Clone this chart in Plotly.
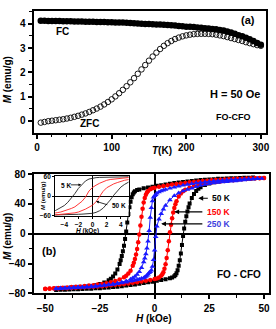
import plotly.graph_objects as go

W, H = 276, 329
FONT = "Liberation Sans, Arial, sans-serif"

# ---------------- (a) FC / ZFC, H = 50 Oe ----------------
T_K = list(range(5, 301, 5))
M_fc = [4.12, 4.12, 4.115, 4.115, 4.11, 4.11, 4.105, 4.10, 4.10, 4.095,
        4.09, 4.09, 4.085, 4.08, 4.078, 4.075, 4.07, 4.068, 4.065,
        4.06, 4.055, 4.05, 4.045, 4.04, 4.03, 4.02, 4.01, 4.0, 3.99,
        3.985, 3.98, 3.97, 3.965, 3.955, 3.945, 3.935, 3.925, 3.91, 3.895,
        3.88, 3.87, 3.86, 3.845, 3.83, 3.815, 3.80, 3.785, 3.77, 3.745,
        3.72, 3.68, 3.64, 3.59, 3.53, 3.48, 3.42, 3.36, 3.29, 3.21, 3.13]
M_zfc = [-0.07, -0.04, -0.01, 0.01, 0.03, 0.05, 0.07, 0.10, 0.13, 0.17,
         0.21, 0.26, 0.31, 0.37, 0.44, 0.51, 0.59, 0.68, 0.78, 0.89,
         1.01, 1.14, 1.28, 1.43, 1.59, 1.76, 1.94, 2.12, 2.30, 2.48,
         2.65, 2.81, 2.96, 3.09, 3.20, 3.29, 3.37, 3.43, 3.48, 3.52,
         3.55, 3.57, 3.58, 3.585, 3.585, 3.58, 3.57, 3.55, 3.52, 3.49,
         3.45, 3.41, 3.37, 3.33, 3.29, 3.24, 3.20, 3.16, 3.12, 3.09]

# ---------------- (b) M-H loops ----------------
# 50 K (black squares)
H50_dn = [45, 43, 41, 39, 37, 35, 33, 31, 29, 27, 25, 23, 21, 19, 17, 15, 13, 11, 9, 7,
          5, 3, 1, -1, -3, -5, -7, -8, -9, -9.5, -10, -10.5, -11, -11.5, -12, -12.5, -13, -13.5, -14, -14.5,
          -15, -15.5, -16, -17, -18, -19, -20, -21, -23, -25, -27, -29, -31, -33, -35, -37, -39, -41, -43, -45]
M50_dn = [75.5, 75.3, 75.1, 74.9, 74.7, 74.5, 74.2, 74, 73.7, 73.3, 73, 72.6, 72.2, 71.6, 71, 70.3, 69.6, 68.8, 68, 67.2,
          66.2, 65.3, 64.3, 63.2, 62.1, 61, 59.6, 58.7, 57, 55.5, 53, 49, 43, 35.5, 26.5, 15, 3, -7, -16, -23.5,
          -30, -35.5, -40.5, -48, -53.5, -57.5, -60.5, -62.5, -65.5, -67.5, -69, -70.2, -71, -71.8, -72.4, -72.9, -73.4, -73.8, -74.2, -74.5]
H50_up = [-45, -43, -41, -39, -37, -35, -33, -31, -29, -27, -25, -23, -21, -19, -17, -15, -13, -11, -9, -7,
          -5, -3, -1, 1, 3, 5, 7, 8, 9, 9.5, 10, 10.5, 11, 11.5, 12, 12.5, 13, 13.5, 14, 14.5,
          15, 15.5, 16, 17, 18, 19, 20, 21, 23, 25, 27, 29, 31, 33, 35, 37, 39, 41, 43, 45]
M50_up = [-75.5, -75.3, -75.1, -74.9, -74.6, -74.4, -74.2, -73.9, -73.7, -73.3, -73, -72.6, -72.1, -71.6, -71, -70.3, -69.5, -68.8, -68, -67.1,
          -66.2, -65.2, -64.3, -63.2, -62.1, -61, -59.6, -58.6, -57, -55.5, -53, -49, -43, -35.5, -26.5, -15, -3, 7, 16, 23.5,
          30, 35.5, 40.5, 48, 53.5, 57.5, 60.5, 62.5, 65.5, 67.5, 69, 70.2, 71, 71.8, 72.4, 72.9, 73.4, 73.8, 74.2, 74.5]

# 150 K (red circles)
H150_dn = [50, 48, 46, 44, 42, 40, 38, 36, 34, 32, 30, 28, 26, 24, 22, 20, 18, 16, 14, 12, 10, 8, 6, 4, 2, 0,
           -1, -2, -3, -3.5, -4, -4.5, -5, -5.5, -6, -6.5, -7, -7.5, -8, -8.5, -9, -9.5, -10,
           -11, -12, -13, -14,
           -16, -18, -20, -22, -24, -26, -28, -30, -32, -34, -36, -38, -40, -42, -44, -46, -48, -50]
M150_dn = [75, 74.8, 74.6, 74.4, 74.2, 74, 73.8, 73.5, 73.2, 72.9, 72.6, 72.2, 71.8, 71.3, 70.8, 70.2, 69.6, 69, 68.3, 67.6, 66.8, 66, 65.1, 64.1, 63, 61.8,
           61, 59.8, 57.5, 55.5, 52.5, 48, 42, 33.5, 23, 11, -1, -11.5, -20.5, -28, -34, -39, -43,
           -49.5, -53.5, -56.5, -58.5,
           -61.5, -63.5, -65, -66.3, -67.3, -68.2, -69, -69.6, -70.2, -70.7, -71.2, -71.6, -72, -72.4, -72.8, -73.1, -73.4, -73.7]
H150_up = [-50, -48, -46, -44, -42, -40, -38, -36, -34, -32, -30, -28, -26, -24, -22, -20, -18, -16, -14, -12, -10, -8, -6, -4, -2, 0,
           1, 2, 3, 3.5, 4, 4.5, 5, 5.5, 6, 6.5, 7, 7.5, 8, 8.5, 9, 9.5, 10,
           11, 12, 13, 14,
           16, 18, 20, 22, 24, 26, 28, 30, 32, 34, 36, 38, 40, 42, 44, 46, 48, 50]
M150_up = [-74, -73.8, -73.6, -73.4, -73.2, -73, -72.8, -72.5, -72.2, -71.9, -71.6, -71.2, -70.8, -70.3, -69.8, -69.2, -68.6, -68, -67.3, -66.6, -65.8, -65, -64.1, -63.1, -62, -60.8,
           -60, -58.8, -56.5, -54.5, -51.5, -47, -41, -32.5, -22, -10, 2, 12, 21, 28.5, 34.5, 39.5, 43.5,
           50, 54, 57, 59,
           62, 64, 65.5, 66.8, 67.8, 68.7, 69.5, 70.1, 70.8, 71.4, 72, 72.6, 73.1, 73.6, 74, 74.4, 74.7, 75]

# 250 K (blue triangles)
H250_dn = [47, 45, 43, 41, 39, 37, 35, 33, 31, 29, 27, 25, 23, 21, 19, 17, 15, 13, 11, 9, 7, 5,
           4, 3, 2, 1, 0.5, 0, -0.5, -1, -1.5, -2, -2.5, -3, -3.5, -4, -4.5, -5,
           -6, -7, -8, -9, -10, -11,
           -13, -15, -17, -19, -21, -23, -25, -27, -29, -31, -33, -35, -37, -39, -41, -43, -45]
M250_dn = [74.2, 74, 73.8, 73.5, 73.2, 72.9, 72.6, 72.2, 71.8, 71.3, 70.8, 70.2, 69.6, 68.9, 68.1, 67.2, 66.2, 65.1, 63.9, 62.6, 61.1, 59.4,
           58.4, 57.3, 56, 54.3, 52.5, 51, 49, 44, 35, 22, 4, -10, -19.5, -27, -33, -38,
           -45.5, -51, -54.8, -57.5, -59.5, -61,
           -63.3, -65, -66.3, -67.3, -68.2, -68.9, -69.5, -70, -70.5, -70.9, -71.3, -71.6, -71.9, -72.2, -72.5, -72.7, -73]
H250_up = [-45, -43, -41, -39, -37, -35, -33, -31, -29, -27, -25, -23, -21, -19, -17, -15, -13,
           -11, -10, -9, -8, -7, -6,
           -5, -4.5, -4, -3.5, -3, -2.5, -2, -1.5, -1, -0.5, 0, 0.5, 1, 2, 3, 4,
           5, 7, 9, 11, 13, 15, 17, 19, 21, 23, 25, 27, 29, 31, 33, 35, 37, 39, 41, 43, 45, 47, 49]
M250_up = [-74, -73.8, -73.5, -73.2, -72.9, -72.6, -72.2, -71.8, -71.3, -70.8, -70.2, -69.6, -68.9, -68.1, -67.2, -66.2, -65.1,
           -63.9, -63.2, -62.5, -61.7, -60.9, -60.1,
           -59.4, -58.4, -57.3, -56, -54.3, -52.5, -51, -49, -44, -35, -22, -4, 10, 19.5, 27, 33,
           38, 45.5, 51, 54.8, 57.5, 59.5, 61, 63.3, 65, 66.3, 67.3, 68.2, 68.9, 69.5, 70, 70.5, 71, 71.6, 72.2, 72.8, 73.3, 73.8, 74.2]

# Inset loops (kOe, emu/g)
Hi_dn = [5.3, 5, 4.5, 4, 3.5, 3, 2.5, 2, 1.5, 1, 0.5, 0, -0.5, -1, -1.5, -2, -2.5, -3, -3.5, -4, -4.5, -5, -5.3]
Hi_up = [-5.3, -5, -4.5, -4, -3.5, -3, -2.5, -2, -1.5, -1, -0.5, 0, 0.5, 1, 1.5, 2, 2.5, 3, 3.5, 4, 4.5, 5, 5.3]
Mi5_dn = [60, 60, 59.7, 59.5, 59.2, 59, 58.7, 58.5, 58.2, 58, 57.3, 56, 53, 47, 37, 24, 8, -7, -19, -29, -36, -42, -45]
Mi5_up = [-58, -58, -57.7, -57.5, -57.2, -57, -56.6, -56, -55.6, -55, -54.2, -53, -50, -45, -37, -26, -12, 3, 17, 28, 36, 42, 46]
Mi50_dn = [58, 57.5, 57, 56, 55, 53.5, 51.5, 49, 45, 40, 34, 27, 16, -3, -16, -26, -33, -38, -42, -46, -49, -51, -52]
Mi50_up = [-58, -57.5, -57, -56, -55, -53.5, -51.5, -49, -45, -40, -34, -28, -17, 1, 15, 26, 33, 38, 42, 46, 49, 51, 52]

BLACK, RED, BLUE = "#000000", "#ff0000", "#1a1aff"
BLUE_TXT = "#4040dd"


def xp(x):
    return x / W


def yp(y):
    return 1 - y / H


fig = go.Figure()

# (a)
fig.add_trace(go.Scatter(x=T_K, y=M_zfc, mode="markers", xaxis="x", yaxis="y",
                         marker=dict(symbol="circle-open", size=5.5, color=BLACK, line=dict(width=0.9))))
fig.add_trace(go.Scatter(x=T_K, y=M_fc, mode="markers", xaxis="x", yaxis="y",
                         marker=dict(symbol="circle", size=6.5, color=BLACK)))

# (b)
loops = [
    (H50_dn, M50_dn, H50_up, M50_up, BLACK, "square", 4),
    (H150_dn, M150_dn, H150_up, M150_up, RED, "circle", 4.5),
    (H250_dn, M250_dn, H250_up, M250_up, BLUE, "triangle-up", 5),
]
for hd, md, hu, mu, col, sym, sz in loops:
    for hh, mm in ((hd, md), (hu, mu)):
        fig.add_trace(go.Scatter(x=hh, y=mm, mode="lines+markers", xaxis="x2", yaxis="y2",
                                 line=dict(color=col, width=1),
                                 marker=dict(symbol=sym, size=sz, color=col)))

# inset
for hh, mm, col in ((Hi_dn, Mi5_dn, "#222222"), (Hi_up, Mi5_up, "#222222"),
                    (Hi_dn, Mi50_dn, "#ff2020"), (Hi_up, Mi50_up, "#ff2020")):
    fig.add_trace(go.Scatter(x=hh, y=mm, mode="lines", xaxis="x3", yaxis="y3",
                             line=dict(color=col, width=0.9)))

tf = dict(family=FONT, size=10, color="black", weight="bold")
tfi = dict(family=FONT, size=6.5, color="black", weight="bold")

common = dict(showline=True, mirror=True, linecolor="black", showgrid=False,
              ticks="outside", tickcolor="black", fixedrange=True)

fig.update_layout(
    width=W, height=H, margin=dict(l=0, r=0, t=0, b=0),
    paper_bgcolor="white", plot_bgcolor="white", showlegend=False,
    font=dict(family=FONT, color="black"),
    xaxis=dict(domain=[xp(34), xp(269)], range=[-4.6, 307], anchor="y",
               tick0=0, dtick=100, ticklen=4, tickwidth=1.5, linewidth=2, zeroline=False,
               tickfont=tf, minor=dict(dtick=20, tick0=0, ticklen=2.5, tickwidth=1, ticks="outside"),
               **common),
    yaxis=dict(domain=[yp(131), yp(5)], range=[-0.48, 4.53], anchor="x",
               tick0=0, dtick=1, ticklen=4, tickwidth=1.5, linewidth=2, zeroline=False,
               tickfont=tf, minor=dict(dtick=0.5, tick0=0, ticklen=2.5, tickwidth=1, ticks="outside"),
               **common),
    xaxis2=dict(domain=[xp(34), xp(272)], range=[-55.3, 52.3], anchor="y2",
                tick0=-50, dtick=25, ticklen=4, tickwidth=1.5, linewidth=2,
                zeroline=True, zerolinecolor="black", zerolinewidth=1.5,
                tickfont=tf, ticklabelstandoff=1,
                minor=dict(dtick=12.5, tick0=0, ticklen=2.5, tickwidth=1, ticks="outside"),
                **common),
    yaxis2=dict(domain=[yp(297.3), yp(174)], range=[-80, 80], anchor="x2",
                tick0=0, dtick=40, ticklen=4, tickwidth=1.5, linewidth=2,
                zeroline=True, zerolinecolor="black", zerolinewidth=1.5,
                tickfont=tf, minor=dict(dtick=20, tick0=0, ticklen=2.5, tickwidth=1, ticks="outside"),
                **common),
    xaxis3=dict(domain=[xp(55.7), xp(130)], range=[-5.3, 5.1], anchor="y3",
                tick0=0, dtick=2, ticklen=2, tickwidth=1, linewidth=1,
                zeroline=True, zerolinecolor="black", zerolinewidth=1,
                tickfont=tfi, **common),
    yaxis3=dict(domain=[yp(217.5), yp(176)], range=[-62, 62], anchor="x3",
                tick0=0, dtick=60, ticklen=2, tickwidth=1, linewidth=1,
                zeroline=True, zerolinecolor="black", zerolinewidth=1,
                tickfont=tfi, **common),
)


def txt(x, y, s, size=10, color="black", angle=0, xanchor="center"):
    fig.add_annotation(x=xp(x), y=yp(y), xref="paper", yref="paper", text=s, showarrow=False,
                       textangle=angle, xanchor=xanchor, yanchor="middle", borderpad=0,
                       font=dict(family=FONT, size=size, color=color, weight="bold"))


def dtxt(x, y, s, xr, yr, size, color):
    fig.add_annotation(x=x, y=y, xref=xr, yref=yr, text=s, showarrow=False,
                       xanchor="left", yanchor="middle",
                       font=dict(family=FONT, size=size, color=color, weight="bold"))


def arrow(hx, hy, tx, ty, xr, yr, width=1.2, size=0.8):
    fig.add_annotation(x=hx, y=hy, ax=tx, ay=ty, xref=xr, yref=yr, axref=xr, ayref=yr,
                       text="", showarrow=True, arrowhead=2, arrowsize=size, arrowwidth=width,
                       arrowcolor="black")


# panel (a) texts
txt(63, 26, "FC")
txt(90, 122, "ZFC")
txt(251, 15, "(a)", 11)
txt(238, 91, "H = 50 Oe", 11)
txt(236, 115, "FO-CFO", 9)
txt(8, 76, "<i>M</i> (emu/g)", 10, angle=-90)
txt(164, 149, "<i>T</i>(K)", 10)

# panel (b) texts
txt(50, 253, "(b)", 11)
txt(242, 278, "FO - CFO", 10)
txt(7, 238, "<i>M</i> (emu/g)", 10, angle=-90)
txt(156, 323.5, "<i>H</i> (kOe)", 10)

dtxt(25.3, 47.7, "50 K", "x2", "y2", 8.5, BLACK)
dtxt(23.0, 29.5, "150 K", "x2", "y2", 8.5, RED)
dtxt(23.0, 13.4, "250 K", "x2", "y2", 8.5, BLUE_TXT)
arrow(20.0, 47.7, 25.0, 47.7, "x2", "y2")
arrow(9.0, 29.5, 22.5, 29.5, "x2", "y2")
arrow(3.0, 13.4, 22.5, 13.4, "x2", "y2")

# inset texts
dtxt(-4.8, 33, "5 K", "x3", "y3", 6.5, BLACK)
arrow(-1.6, 35, -3.3, 35, "x3", "y3", width=0.8, size=0.7)
dtxt(2.4, -30, "50 K", "x3", "y3", 6.5, BLACK)
arrow(0.5, -16, 2.3, -28, "x3", "y3", width=0.8, size=0.7)
txt(44, 197, "<i>M</i> (emu/g)", 6, angle=-90)
txt(88, 232.5, "<i>H</i> (kOe)", 6.5)

fig.write_html("out.html", config={"displayModeBar": False},
               post_script="document.body.style.margin='0';document.body.style.overflow='hidden';")
